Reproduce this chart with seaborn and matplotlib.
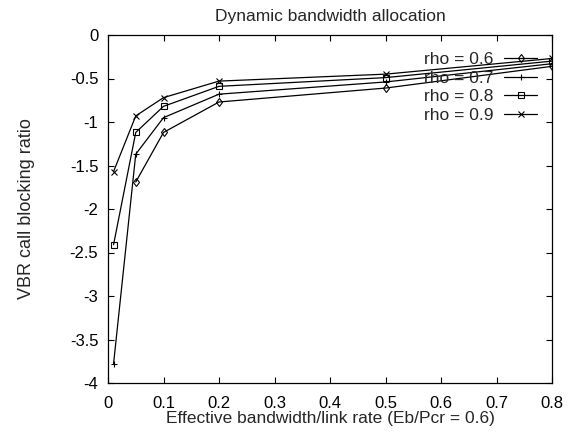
import numpy as np
import pandas as pd
import matplotlib
matplotlib.use("Agg")
import matplotlib.pyplot as plt
import seaborn as sns

x_vals = [0.01, 0.05, 0.1, 0.2, 0.5, 0.8]
rho_06 = [np.nan, -1.69, -1.12, -0.77, -0.61, -0.36]
rho_07 = [-3.78, -1.37, -0.95, -0.68, -0.54, -0.33]
rho_08 = [-2.41, -1.12, -0.82, -0.59, -0.49, -0.30]
rho_09 = [-1.57, -0.93, -0.72, -0.53, -0.45, -0.27]
labels = ["rho = 0.6", "rho = 0.7", "rho = 0.8", "rho = 0.9"]
markers = ["d", "+", "s", "x"]

sns.set_style("ticks")
plt.rcParams["font.family"] = ["Liberation Sans", "DejaVu Sans"]

fig = plt.figure(figsize=(5.7, 4.33), dpi=100)
ax = fig.add_axes([108 / 570, 1 - 383 / 433, (552 - 108) / 570, (383 - 35) / 433])

for vals, lab, mk in zip([rho_06, rho_07, rho_08, rho_09], labels, markers):
    df = pd.DataFrame({"x": x_vals, "y": vals}).dropna()
    sns.lineplot(data=df, x="x", y="y", ax=ax, color="black", marker=mk,
                 markersize=4.5 if mk in ("d", "s") else 5, linewidth=0.9,
                 mec="black", mew=0.8, mfc="none", label=lab)

for ln in ax.lines:
    ln.set_markerfacecolor("none")
    ln.set_markeredgecolor("black")

ax.set_xlim(0, 0.8)
ax.set_ylim(-4, 0)
ax.set_xticks(np.arange(0, 0.81, 0.1))
ax.set_xticklabels(["0", "0.1", "0.2", "0.3", "0.4", "0.5", "0.6", "0.7", "0.8"])
ax.set_yticks(np.arange(-4, 0.01, 0.5))
ax.set_yticklabels(["-4", "-3.5", "-3", "-2.5", "-2", "-1.5", "-1", "-0.5", "0"])
ax.tick_params(direction="in", top=True, right=True, length=4.5, width=0.8,
               labelsize=12, colors="black")
ax.tick_params(axis="x", pad=9)
ax.tick_params(axis="y", pad=7)
for s in ax.spines.values():
    s.set_visible(True)
    s.set_color("black")
    s.set_linewidth(0.9)

ax.set_xlabel("Effective bandwidth/link rate (Eb/Pcr = 0.6)", fontsize=12.5, labelpad=0)
ax.set_ylabel("VBR call blocking ratio", fontsize=13, labelpad=25)
ax.set_title("Dynamic bandwidth allocation", fontsize=12.5, pad=10)

leg = ax.legend(loc="upper right", bbox_to_anchor=(537 / 570, 1 - 52 / 433),
                bbox_transform=fig.transFigure, frameon=False, markerfirst=False,
                fontsize=12.5, handlelength=1.9, handletextpad=0.6,
                labelspacing=0.2, borderpad=0, borderaxespad=0)

fig.savefig("out.png", dpi=100)
